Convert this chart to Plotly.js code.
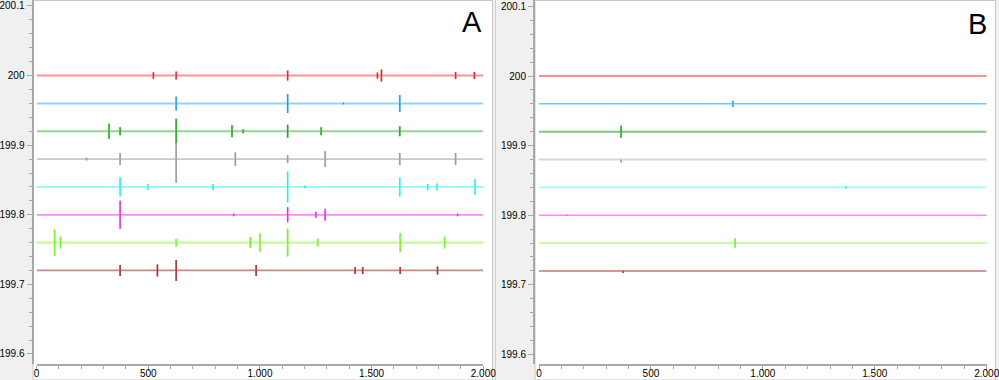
<!DOCTYPE html>
<html>
<head>
<meta charset="utf-8">
<script src="https://cdn.plot.ly/plotly-3.0.1.min.js"></script>
<style>html,body{margin:0;padding:0;background:#f0f0f0;}#chart{width:999px;height:380px;}</style>
</head>
<body>
<div id="chart"></div>
<script>
// ---------- data ----------
const xTickVals = [0, 500, 1000, 1500, 2000];
const xTickText = ['0', '500', '1.000', '1.500', '2.000'];
const yTickVals = [199.6, 199.7, 199.8, 199.9, 200, 200.1];
const yTickText = ['199.6', '199.7', '199.8', '199.9', '200', '200.1'];
const seriesNames = ['red', 'blue', 'green', 'gray', 'cyan', 'magenta', 'lightgreen', 'brown'];
const levels = [200, 199.96, 199.92, 199.88, 199.84, 199.80, 199.76, 199.72];
const xStart = 0, xEnd = 2000;

// Panel A spikes: position, upward and downward excursion
const aRedX = [523, 625, 1124, 1526, 1544, 1876, 1960];
const aRedUp = [0.0047, 0.0057, 0.0072, 0.0043, 0.0086, 0.005, 0.005];
const aRedDn = [0.0047, 0.0057, 0.0072, 0.0043, 0.0086, 0.005, 0.005];
const aBlueX = [625, 1124, 1374, 1626];
const aBlueUp = [0.010, 0.0137, 0.0015, 0.0122];
const aBlueDn = [0.010, 0.0137, 0.0015, 0.0122];
const aGreenX = [324, 374, 625, 875, 925, 1124, 1274, 1626];
const aGreenUp = [0.0108, 0.0057, 0.018, 0.0086, 0.003, 0.0093, 0.0057, 0.0072];
const aGreenDn = [0.0108, 0.0057, 0.018, 0.0086, 0.003, 0.0093, 0.0057, 0.0072];
const aGrayX = [224, 374, 625, 890, 1124, 1292, 1626, 1876];
const aGrayUp = [0.002, 0.0086, 0.023, 0.010, 0.0057, 0.0115, 0.0086, 0.0086];
const aGrayDn = [0.002, 0.0086, 0.034, 0.010, 0.0057, 0.0115, 0.0086, 0.0086];
const aCyanX = [374, 498, 790, 1124, 1200, 1626, 1751, 1793, 1963];
const aCyanUp = [0.0138, 0.0043, 0.0043, 0.0223, 0.002, 0.0137, 0.0043, 0.005, 0.0115];
const aCyanDn = [0.0138, 0.0043, 0.0043, 0.0223, 0.002, 0.0137, 0.0043, 0.005, 0.0115];
const aMagentaX = [374, 883, 1124, 1250, 1292, 1885];
const aMagentaUp = [0.020, 0.002, 0.0108, 0.0043, 0.0086, 0.002];
const aMagentaDn = [0.020, 0.002, 0.0108, 0.0043, 0.0086, 0.002];
const aLgreenX = [81, 107, 625, 957, 1000, 1124, 1259, 1628, 1827];
const aLgreenUp = [0.0187, 0.0086, 0.0057, 0.0079, 0.013, 0.020, 0.0057, 0.0137, 0.0086];
const aLgreenDn = [0.0187, 0.0086, 0.0057, 0.0079, 0.013, 0.020, 0.0057, 0.0137, 0.0086];
const aBrownX = [374, 541, 625, 983, 1426, 1460, 1628, 1795];
const aBrownUp = [0.0079, 0.0086, 0.015, 0.0079, 0.005, 0.005, 0.005, 0.0057];
const aBrownDn = [0.0079, 0.0086, 0.015, 0.0079, 0.005, 0.005, 0.005, 0.0057];

// Panel B spikes
const bRedX = [], bRedUp = [], bRedDn = [];
const bBlueX = [866], bBlueUp = [0.0047], bBlueDn = [0.0047];
const bGreenX = [367], bGreenUp = [0.0086], bGreenDn = [0.0086];
const bGrayX = [367], bGrayUp = [0], bGrayDn = [0.0043];
const bCyanX = [1372], bCyanUp = [0.0015], bCyanDn = [0.0015];
const bMagentaX = [125], bMagentaUp = [0.001], bMagentaDn = [0.001];
const bLgreenX = [876], bLgreenUp = [0.0067], bLgreenDn = [0.0067];
const bBrownX = [376], bBrownUp = [0], bBrownDn = [0.003];

// ---------- styles ----------
const lineColorsA = ['#f79494', '#93d2fb', '#94d694', '#c8c8c8', '#8cfcfc', '#fb8cfb', '#c3fb98', '#c98888'];
const spikeColorsA = ['#e02828', '#2a95f0', '#22a822', '#9a9a9a', '#20f0f0', '#f020f0', '#78f030', '#a83030'];
const lineColorsB = ['#ff6a6a', '#6cc8fc', '#7acc7a', '#d8d8d8', '#99fafa', '#ff88ff', '#aaff80', '#d09898'];
const spikeColorsB = ['#e02828', '#3aa0f5', '#22b022', '#909090', '#20e0e0', '#f060f0', '#70f020', '#a83030'];
const lineWidthsB = [1.3, 1.5, 2, 2, 1.8, 1.5, 1.5, 2];

const spikesA = [[aRedX, aRedUp, aRedDn], [aBlueX, aBlueUp, aBlueDn], [aGreenX, aGreenUp, aGreenDn],
  [aGrayX, aGrayUp, aGrayDn], [aCyanX, aCyanUp, aCyanDn], [aMagentaX, aMagentaUp, aMagentaDn],
  [aLgreenX, aLgreenUp, aLgreenDn], [aBrownX, aBrownUp, aBrownDn]];
const spikesB = [[bRedX, bRedUp, bRedDn], [bBlueX, bBlueUp, bBlueDn], [bGreenX, bGreenUp, bGreenDn],
  [bGrayX, bGrayUp, bGrayDn], [bCyanX, bCyanUp, bCyanDn], [bMagentaX, bMagentaUp, bMagentaDn],
  [bLgreenX, bLgreenUp, bLgreenDn], [bBrownX, bBrownUp, bBrownDn]];

function buildTraces(spikes, xa, ya, lineColors, spikeColors, widths) {
  const traces = [];
  spikes.forEach((s, i) => {
    const base = levels[i];
    const [sx, su, sd] = s;
    const x = [xStart], y = [base];
    const px = [], py = [];
    sx.forEach((v, k) => {
      x.push(v, v, v, v);
      y.push(base, base + su[k], base - sd[k], base);
      px.push(v, v, null);
      py.push(base + su[k], base - sd[k], null);
    });
    x.push(xEnd); y.push(base);
    traces.push({type: 'scatter', mode: 'lines', x: x, y: y, xaxis: xa, yaxis: ya,
      name: seriesNames[i], line: {color: lineColors[i], width: widths[i]}, hoverinfo: 'skip', showlegend: false});
    if (px.length) {
      traces.push({type: 'scatter', mode: 'lines', x: px, y: py, xaxis: xa, yaxis: ya,
        name: seriesNames[i] + ' spikes', line: {color: spikeColors[i], width: 1.3}, hoverinfo: 'skip', showlegend: false});
    }
  });
  return traces;
}

const widthsA = [2, 2, 2.2, 1.8, 1.8, 1.8, 2.2, 1.8];
const data = buildTraces(spikesA, 'x', 'y', lineColorsA, spikeColorsA, widthsA)
  .concat(buildTraces(spikesB, 'x2', 'y2', lineColorsB, spikeColorsB, lineWidthsB));

// ---------- layout ----------
const W = 999, H = 380;
const px2x = p => p / W;
const px2y = p => 1 - p / H;
const axisFont = {family: 'Liberation Sans, Arial, sans-serif', size: 10, color: '#000'};
const axColor = '#a8a8a8';

function xAxis(l, r) {
  return {domain: [px2x(l), px2x(r)], range: [xStart, xEnd], tickmode: 'array', tickvals: xTickVals, ticktext: xTickText,
    ticks: 'outside', ticklen: 5, tickwidth: 1, tickcolor: axColor, ticklabelstandoff: -6, ticklabeloverflow: 'allow',
    minor: {tick0: 0, dtick: 100, ticks: 'outside', ticklen: 3, tickwidth: 1, tickcolor: axColor},
    showline: true, linecolor: axColor, linewidth: 2, showgrid: false, zeroline: false, tickfont: axisFont, fixedrange: true};
}
function yAxis(pos, lo, hi) {
  return {domain: [px2y(364), 1], range: [lo, hi], anchor: 'free', position: pos, side: 'left',
    tickmode: 'array', tickvals: yTickVals, ticktext: yTickText, ticklabeloverflow: 'allow',
    ticks: 'outside', ticklen: 5, tickwidth: 1, tickcolor: axColor,
    minor: {tick0: 199.6, dtick: 0.02, ticks: 'outside', ticklen: 3, tickwidth: 1, tickcolor: axColor},
    showline: true, linecolor: axColor, linewidth: 2, showgrid: false, zeroline: false, tickfont: axisFont, fixedrange: true};
}

const xa1 = xAxis(36.6, 483.3); xa1.anchor = 'y';
const xa2 = xAxis(539, 986.7); xa2.anchor = 'y2';
const ya1 = yAxis(px2x(32.5), 199.5856, 200.1086);
const ya2 = yAxis(px2x(534), 199.5862, 200.1092);

const layout = {
  width: W, height: H, margin: {l: 0, r: 0, t: 0, b: 0},
  paper_bgcolor: '#f0f0f0', plot_bgcolor: 'rgba(0,0,0,0)', showlegend: false,
  xaxis: xa1, yaxis: ya1, xaxis2: xa2, yaxis2: ya2,
  shapes: [
    {type: 'rect', xref: 'paper', yref: 'paper', x0: px2x(33), x1: px2x(492.5), y0: px2y(380), y1: px2y(0.5),
      fillcolor: '#ffffff', line: {color: '#c8c8c8', width: 1}, layer: 'below'},
    {type: 'rect', xref: 'paper', yref: 'paper', x0: px2x(535), x1: px2x(995.5), y0: px2y(380), y1: px2y(0.5),
      fillcolor: '#ffffff', line: {color: '#c8c8c8', width: 1}, layer: 'below'},
    {type: 'line', xref: 'paper', yref: 'paper', x0: px2x(495.5), x1: px2x(495.5), y0: 0, y1: 1,
      line: {color: '#d0d0d0', width: 1}, layer: 'below'}
  ],
  annotations: [
    {text: 'A', xref: 'paper', yref: 'paper', x: px2x(472), y: px2y(22), xanchor: 'center', yanchor: 'middle',
      showarrow: false, font: {family: 'Liberation Sans, Arial, sans-serif', size: 29, color: '#000'}},
    {text: 'B', xref: 'paper', yref: 'paper', x: px2x(977), y: px2y(23.5), xanchor: 'center', yanchor: 'middle',
      showarrow: false, font: {family: 'Liberation Sans, Arial, sans-serif', size: 29, color: '#000'}}
  ]
};

Plotly.newPlot('chart', data, layout, {staticPlot: true, displayModeBar: false});
</script>
</body>
</html>
